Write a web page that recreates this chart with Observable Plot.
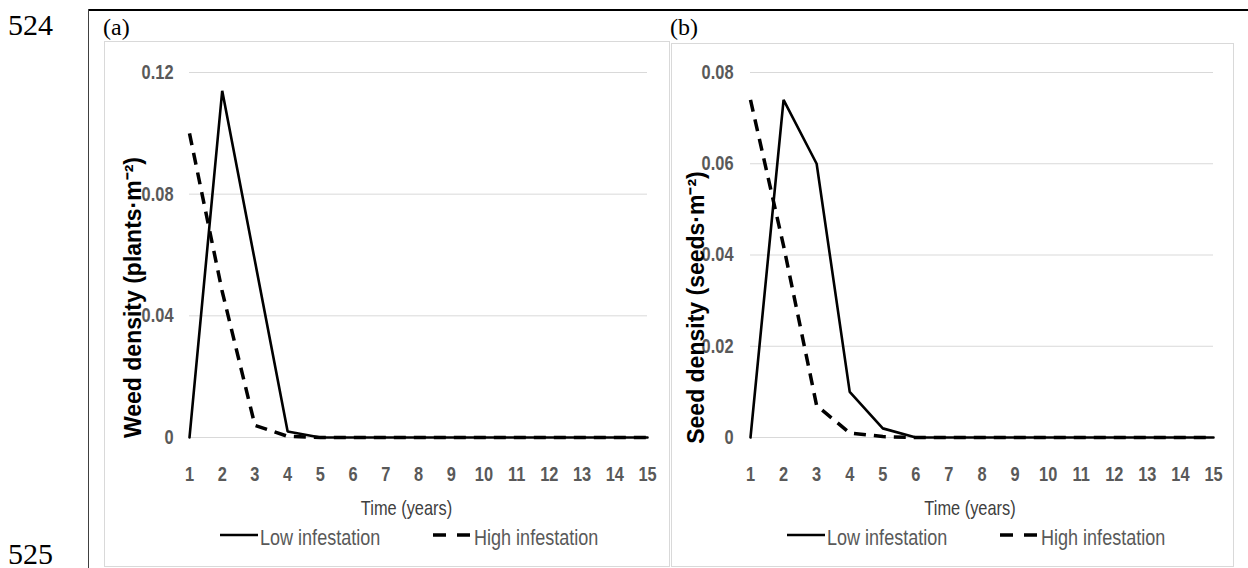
<!DOCTYPE html>
<html>
<head>
<meta charset="utf-8">
<script src="https://cdn.jsdelivr.net/npm/d3@7"></script>
<script src="https://cdn.jsdelivr.net/npm/@observablehq/plot@0.6"></script>
<style>
html, body { margin: 0; padding: 0; background: #fff; }
#root { position: relative; width: 1248px; height: 568px; overflow: hidden; background: #fff; }
.abs { position: absolute; }
.serif { font-family: "Liberation Serif", "Times New Roman", serif; color: #000; line-height: 1; white-space: nowrap; }
.box { position: absolute; border: 1px solid #d9d9d9; box-sizing: border-box; pointer-events: none; }
</style>
</head>
<body>
<div id="root">
  <div class="abs" style="left:88px;top:9px;width:1160px;height:2px;background:#000;"></div>
  <div class="abs" style="left:88px;top:9px;width:1px;height:559px;background:#404040;"></div>
  <div class="abs serif" style="left:8px;top:10px;font-size:30px;">524</div>
  <div class="abs serif" style="left:8px;top:539px;font-size:30px;">525</div>
  <div class="abs serif" style="left:103px;top:15px;font-size:24px;">(a)</div>
  <div class="abs serif" style="left:670px;top:15px;font-size:24px;">(b)</div>
  <div id="pa" class="abs" style="left:104px;top:41px;"></div>
  <div id="pb" class="abs" style="left:671px;top:43px;"></div>
  <div class="box" style="left:104px;top:41px;width:566px;height:526px;"></div>
  <div class="box" style="left:671px;top:43px;width:563px;height:524px;"></div>
  <svg id="legend" class="abs" style="left:0;top:515px;" width="1248" height="45"></svg>
</div>
<script>
// ---- data ----
const years = [1, 2, 3, 4, 5, 6, 7, 8, 9, 10, 11, 12, 13, 14, 15];
const seriesNames = ["Low infestation", "High infestation"];
// (a) weed density, plants per m2
const weedLow  = [0, 0.114, 0.058, 0.002, 0, 0, 0, 0, 0, 0, 0, 0, 0, 0, 0];
const weedHigh = [0.1, 0.048, 0.004, 0.0004, 0, 0, 0, 0, 0, 0, 0, 0, 0, 0, 0];
// (b) seed density, seeds per m2
const seedLow  = [0, 0.074, 0.06, 0.01, 0.002, 0, 0, 0, 0, 0, 0, 0, 0, 0, 0];
const seedHigh = [0.074, 0.042, 0.007, 0.001, 0.0002, 0, 0, 0, 0, 0, 0, 0, 0, 0, 0];
const weedTicks = [0, 0.04, 0.08, 0.12];
const seedTicks = [0, 0.02, 0.04, 0.06, 0.08];
const xLabel = "Time (years)";
const weedLabel = "Weed density (plants·m⁻²)";
const seedLabel = "Seed density (seeds·m⁻²)";

const SANS = "'Liberation Sans', Arial, sans-serif";
const SQUEEZE = 0.82;   // horizontal condensing of the narrow chart lettering
const DASH = "12,8";

// condense non-rotated text horizontally around its own anchor point
function condense(root) {
  d3.select(root).selectAll("text").each(function () {
    const t = this.getAttribute("transform") || "";
    if (t.includes("rotate")) return;
    const x = +(this.getAttribute("x") || 0);
    this.setAttribute("transform", `${t} translate(${x},0) scale(${SQUEEZE},1) translate(${-x},0)`.trim());
  });
}

function panel(o) {
  const svg = Plot.plot({
    width: o.width, height: o.height,
    marginTop: o.mt, marginRight: o.mr, marginBottom: o.mb, marginLeft: o.ml,
    style: { background: "transparent", fontFamily: SANS, overflow: "visible" },
    x: { type: "linear", domain: [1, 15] },
    y: { type: "linear", domain: [0, o.ymax] },
    marks: [
      Plot.gridY(o.yticks, { stroke: "#d9d9d9", strokeOpacity: 1, strokeWidth: 1 }),
      Plot.axisY(o.yticks, { tickSize: 0, tickPadding: o.tp, fontSize: 20, fontWeight: "bold", fill: "#595959", label: null, tickFormat: d => String(d) }),
      Plot.axisX(years, { tickSize: 0, tickPadding: 29, fontSize: 20, fontWeight: "bold", fill: "#595959", label: null, tickFormat: d => String(d) }),
      Plot.text([xLabel], { text: d => d, frameAnchor: "bottom", lineAnchor: "top", dy: 63, dx: -12, fontSize: 20, fill: "#404040" }),
      Plot.text([o.ylab], { text: d => d, frameAnchor: "left", rotate: -90, dx: o.tdx, dy: o.tdy, fontSize: 23, fontWeight: "bold", fill: "#000", textAnchor: "middle", lineAnchor: "middle" }),
      Plot.line(years, { x: years, y: o.low, stroke: "#000", strokeWidth: 2.6, strokeLinejoin: "miter" }),
      Plot.line(years, { x: years, y: o.high, stroke: "#000", strokeWidth: 3.5, strokeDasharray: DASH, strokeLinecap: "butt", strokeLinejoin: "miter" })
    ]
  });
  condense(svg);
  return svg;
}

document.getElementById("pa").appendChild(panel({
  width: 566, height: 482, mt: 31, mr: 23, mb: 86, ml: 85,
  ymax: 0.12, yticks: weedTicks, tp: 16, ylab: weedLabel, tdx: -56, tdy: 42.5,
  low: weedLow, high: weedHigh
}));
document.getElementById("pb").appendChild(panel({
  width: 563, height: 480, mt: 29, mr: 21, mb: 86, ml: 79,
  ymax: 0.08, yticks: seedTicks, tp: 17, ylab: seedLabel, tdx: -54, tdy: 52.5,
  low: seedLow, high: seedHigh
}));

// ---- legends (below each plot) ----
const leg = d3.select("#legend");
const legendY = 20;      // swatch y within legend svg (abs 535)
const baseY = 30;        // text baseline (abs 545)
[[220, 433], [787, 1000]].forEach(([sx, hx]) => {
  leg.append("line").attr("x1", sx).attr("x2", sx + 38).attr("y1", legendY).attr("y2", legendY)
    .attr("stroke", "#000").attr("stroke-width", 2.6);
  leg.append("text").attr("x", sx + 40).attr("y", baseY).text(seriesNames[0])
    .attr("font-family", SANS).attr("font-size", 22).attr("fill", "#595959");
  leg.append("line").attr("x1", hx).attr("x2", hx + 39).attr("y1", legendY).attr("y2", legendY)
    .attr("stroke", "#000").attr("stroke-width", 3.5).attr("stroke-dasharray", "13,11");
  leg.append("text").attr("x", hx + 41).attr("y", baseY).text(seriesNames[1])
    .attr("font-family", SANS).attr("font-size", 22).attr("fill", "#595959");
});
condense(document.getElementById("legend"));
</script>
</body>
</html>
